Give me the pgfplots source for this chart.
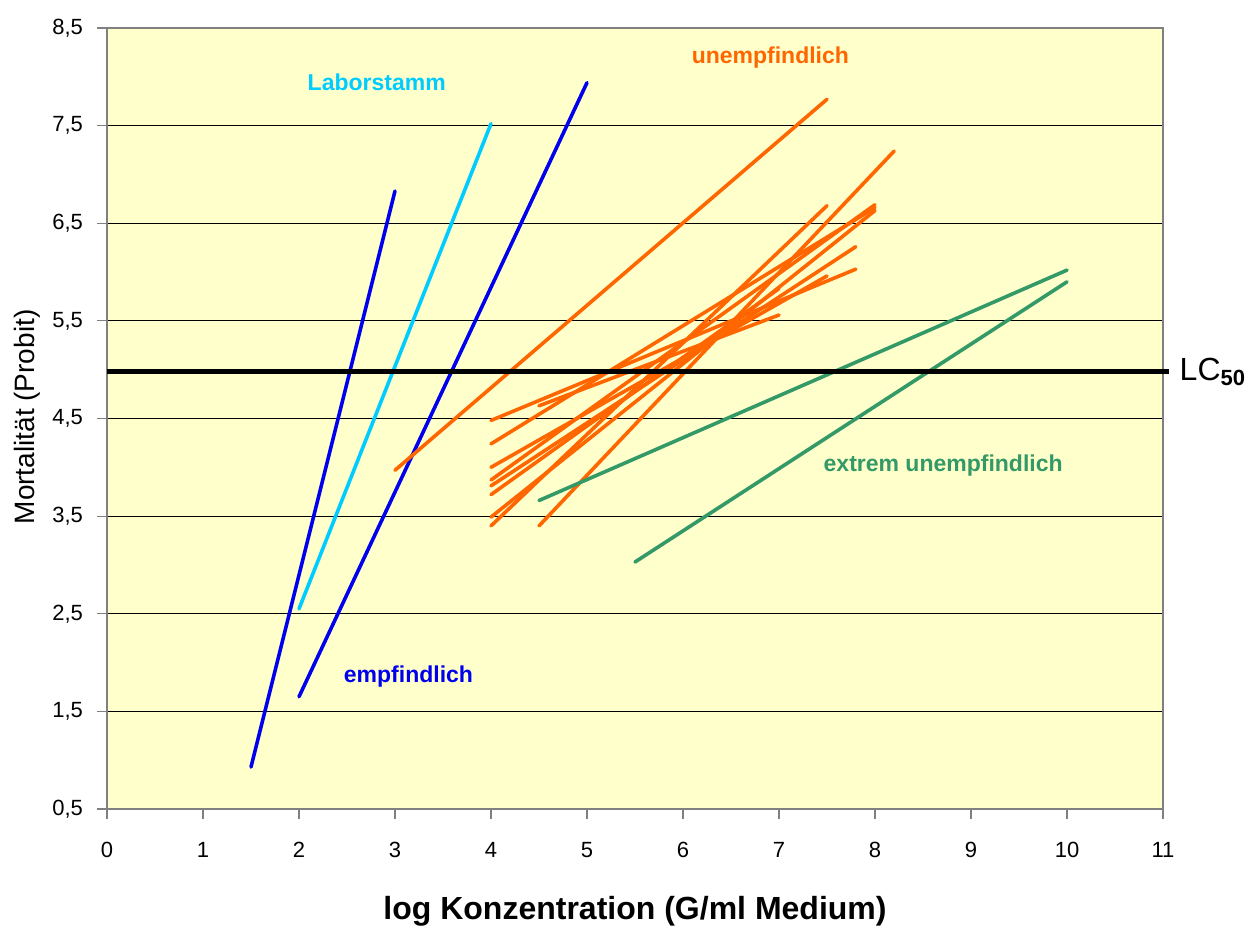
\documentclass[border=0pt]{standalone}
\usepackage{fontspec}
\setmainfont{Liberation Sans}
\usepackage{pgfplots}
\pgfplotsset{compat=1.18}

\definecolor{plotbg}{HTML}{FFFFCC}
\definecolor{resorange}{HTML}{FF6600}
\definecolor{sensblue}{HTML}{0000EE}
\definecolor{labblue}{HTML}{00CCFF}
\definecolor{extgreen}{HTML}{339966}
\definecolor{framegray}{HTML}{808080}

\begin{document}
\begin{tikzpicture}
\path[use as bounding box] (-53.5pt,-58.5pt) rectangle (573pt,404.5pt);
\begin{axis}[
  at={(0,0)}, anchor=south west,
  scale only axis, width=528pt, height=390.5pt,
  xmin=0, xmax=11, ymin=0.5, ymax=8.5,
  xtick={0,1,2,3,4,5,6,7,8,9,10,11},
  ytick={0.5,1.5,2.5,3.5,4.5,5.5,6.5,7.5,8.5},
  tick pos=left, tick align=outside, major tick length=5pt,
  tick style={framegray, line width=0.6pt},
  axis line style={framegray, line width=0.8pt},
  axis background/.style={fill=plotbg},
  ymajorgrids, major grid style={black, line width=0.5pt},
  /pgf/number format/assume math mode=true,
  ticklabel style={font=\fontsize{11}{13}\selectfont},
  yticklabel style={xshift=-3.5pt,
    /pgf/number format/fixed, /pgf/number format/fixed zerofill,
    /pgf/number format/precision=1, /pgf/number format/use comma},
  xticklabel style={yshift=-8pt},
  xlabel={log Konzentration (G/ml Medium)},
  ylabel={Mortalität (Probit)},
  xlabel style={at={(axis description cs:0.5,-0.1421)}, anchor=base, font=\fontsize{16}{18}\selectfont\bfseries},
  ylabel style={at={(axis description cs:-0.0758,0.502)}, anchor=center, rotate=0, font=\fontsize{14}{16}\selectfont},
  clip=false,
  every axis plot/.append style={line width=1.8pt, line cap=round},
]

% sensitive strains
\addplot[sensblue, no marks] coordinates {(1.5,0.93) (3.0,6.83)};
\addplot[sensblue, no marks] coordinates {(2.0,1.65) (5.0,7.94)};
% laboratory strain
\addplot[labblue, no marks] coordinates {(2.0,2.55) (4.0,7.52)};

% insensitive strains
\addplot[resorange, no marks] coordinates {(3.0,3.97) (7.5,7.77)};
\addplot[resorange, no marks] coordinates {(4.0,4.48) (7.8,6.03)};
\addplot[resorange, no marks] coordinates {(4.5,4.63) (7.0,5.56)};
\addplot[resorange, no marks] coordinates {(4.0,4.24) (8.0,6.66)};
\addplot[resorange, no marks] coordinates {(4.0,4.00) (7.5,5.96)};
\addplot[resorange, no marks] coordinates {(4.0,3.87) (8.0,6.69)};
\addplot[resorange, no marks] coordinates {(4.0,3.81) (7.8,6.26)};
\addplot[resorange, no marks] coordinates {(4.0,3.72) (7.0,5.83)};
\addplot[resorange, no marks] coordinates {(4.0,3.49) (8.0,6.63)};
\addplot[resorange, no marks] coordinates {(4.0,3.40) (7.5,6.68)};
\addplot[resorange, no marks] coordinates {(4.5,3.40) (8.2,7.24)};

% extremely insensitive strains
\addplot[extgreen, no marks] coordinates {(4.5,3.66) (10.0,6.02)};
\addplot[extgreen, no marks] coordinates {(5.5,3.03) (10.0,5.90)};

% LC50 reference line
\addplot[black, no marks, line width=2.6pt, line cap=butt] coordinates {(0,4.98) (11.06,4.98)};

\node[text=labblue, font=\fontsize{11.5}{13}\selectfont\bfseries] at (axis cs:2.81,7.94) {Laborstamm};
\node[text=resorange, font=\fontsize{11.5}{13}\selectfont\bfseries] at (axis cs:6.91,8.20) {unempfindlich};
\node[text=sensblue, font=\fontsize{11.5}{13}\selectfont\bfseries] at (axis cs:3.14,1.86) {empfindlich};
\node[text=extgreen, font=\fontsize{11.5}{13}\selectfont\bfseries] at (axis cs:8.71,4.02) {extrem unempfindlich};
\node[anchor=base west, inner sep=0pt, font=\fontsize{16}{18}\selectfont] at (axis cs:11.17,4.894) {LC\raisebox{-2.5pt}{\fontsize{11}{12}\selectfont\bfseries 50}};
\end{axis}
\end{tikzpicture}
\end{document}
